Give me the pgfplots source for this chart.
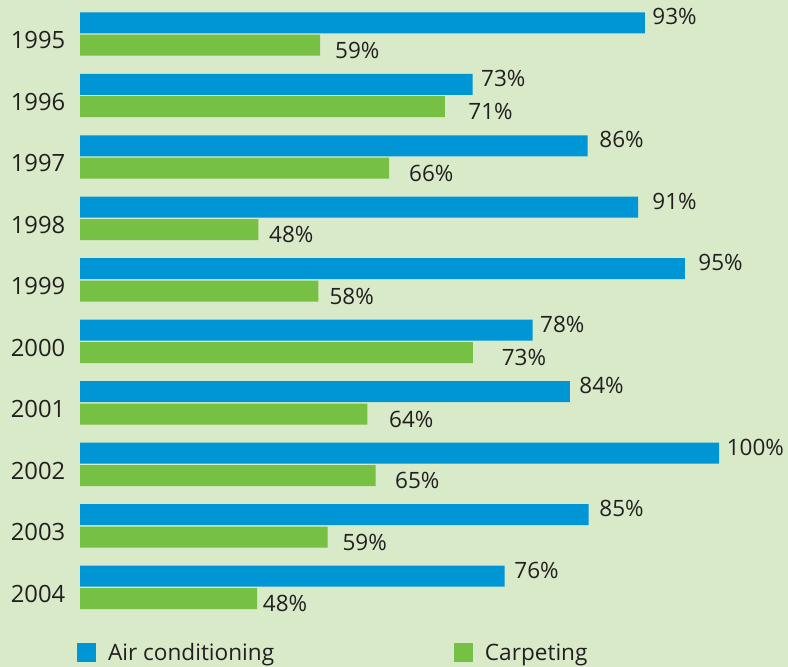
\documentclass[border=0pt]{standalone}
\usepackage{pgfplots}
\pgfplotsset{compat=1.18}
\usepackage{pgfplotstable}
\usepackage{fontspec}
\setmainfont{Open Sans}
\definecolor{acblue}{HTML}{0096D6}
\definecolor{cpgreen}{HTML}{76C043}
\definecolor{bgc}{HTML}{D9EAC9}
\definecolor{txt}{HTML}{231F20}
\pgfplotsset{
  sq legend/.style={legend image code/.code={\fill[##1,draw=none] (0bp,-1.3bp) rectangle (19bp,17.7bp); \path (31bp,0bp);}},
}
\tikzset{pct/.style={anchor=west, inner sep=0pt, font=\fontsize{22.5bp}{26bp}\selectfont, text=txt, text height=16bp, text depth=0pt}}
% idx: year index; air/carp: drawn bar length; airlx/carplx: label position; airlab/carplab: printed value
\pgfplotstableread{
idx air   carp  airlx carplx airlab carplab
0   565.0 240.0 572.3 255.0  93     59
1   392.7 365.0 401.0 388.3  73     71
2   507.7 309.0 519.3 329.0  86     66
3   558.3 178.3 572.3 189.0  91     48
4   605.0 238.3 618.3 249.3  95     58
5   452.7 393.0 460.0 421.7  78     73
6   490.0 287.3 499.3 309.0  84     64
7   639.3 295.7 646.7 315.0  100    65
8   508.7 247.7 519.3 262.3  85     59
9   424.7 177.0 434.3 182.7  76     48
}\data
\begin{document}
\begin{tikzpicture}
\begin{axis}[
  x=1bp, y=61.5bp,
  xmin=-80, xmax=708, ymin=-10.2927, ymax=0.5528,
  clip=false,
  axis background/.style={fill=bgc},
  axis line style={draw=none},
  major tick length=0pt,
  xtick=\empty,
  ytick={0,-1,-2,-3,-4,-5,-6,-7,-8,-9},
  yticklabels={1995,1996,1997,1998,1999,2000,2001,2002,2003,2004},
  yticklabel style={anchor=center, xshift=38bp, yshift=-6.4bp, inner sep=0pt,
    font=\fontsize{23.8bp}{28bp}\selectfont, text=txt, text height=17bp, text depth=0pt},
  legend columns=2,
  legend style={at={(axis cs:-3,-10.2114)}, anchor=south west, draw=none, fill=none,
    inner sep=0pt, outer sep=0pt,
    nodes={inner sep=0pt, text=txt, text depth=0pt, font=\fontsize{22.6bp}{26bp}\selectfont},
    cells={anchor=base west}},
]
\addplot[xbar, sq legend, bar width=21bp, bar shift=11.2bp, draw=none, fill=acblue]
  table[x=air, y expr=-\thisrow{idx}] {\data};
\addlegendentry{\makebox[346bp][l]{Air conditioning}}
\addplot[xbar, sq legend, bar width=21bp, bar shift=-11.2bp, draw=none, fill=cpgreen]
  table[x=carp, y expr=-\thisrow{idx}] {\data};
\addlegendentry{Carpeting}
\addplot[only marks, mark=none, forget plot, point meta=explicit symbolic,
  nodes near coords={\pgfplotspointmeta\%}, nodes near coords style={pct, yshift=17.25bp}]
  table[x=airlx, y expr=-\thisrow{idx}, meta=airlab] {\data};
\addplot[only marks, mark=none, forget plot, point meta=explicit symbolic,
  nodes near coords={\pgfplotspointmeta\%}, nodes near coords style={pct, yshift=-16.25bp}]
  table[x=carplx, y expr=-\thisrow{idx}, meta=carplab] {\data};
\end{axis}
\end{tikzpicture}
\end{document}
